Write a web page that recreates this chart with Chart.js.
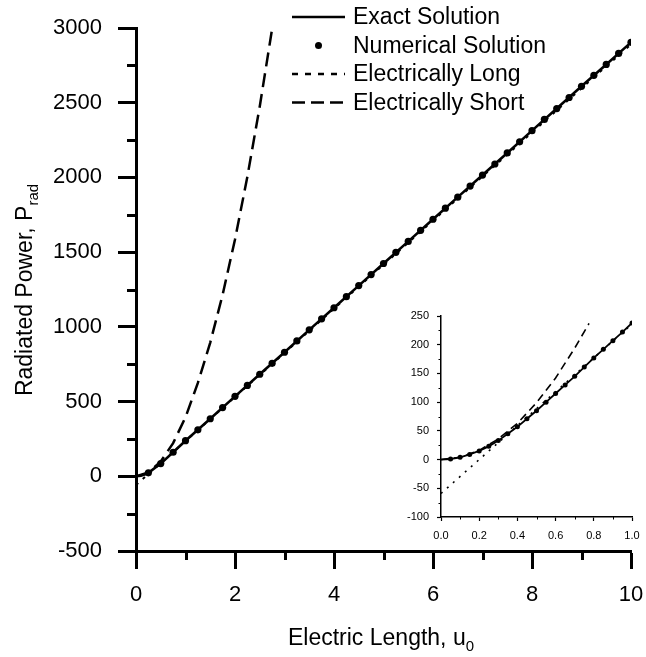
<!DOCTYPE html>
<html>
<head>
<meta charset="utf-8">
<script src="https://cdn.jsdelivr.net/npm/chart.js@4.4.1/dist/chart.umd.min.js"></script>
<style>
    html, body { margin: 0; padding: 0; background: #fff; }
    #wrap { position: relative; width: 646px; height: 657px; }
    #main { position: absolute; left: 0; top: 0; }
    #inset { position: absolute; left: 395px; top: 305px; }
</style>
</head>
<body>
<div id="wrap">
    <canvas id="main" width="646" height="657"></canvas>
    <canvas id="inset" width="251" height="245"></canvas>
</div>
<script>
/* ============================================================
   Radiated power vs electric length (main plot + zoomed inset)
============================================================ */

const FONT = "'Liberation Sans', Arial, sans-serif";

/* ---- main plot data ---- */
const U_NUM = [0.25, 0.5, 0.75, 1, 1.25, 1.5, 1.75, 2, 2.25, 2.5, 2.75, 3, 3.25, 3.5, 3.75, 4,
    4.25, 4.5, 4.75, 5, 5.25, 5.5, 5.75, 6, 6.25, 6.5, 6.75, 7, 7.25, 7.5, 7.75, 8,
    8.25, 8.5, 8.75, 9, 9.25, 9.5, 9.75, 10];
const P_NUM = [23, 85, 161, 238, 311, 385, 460, 535, 608, 683, 756, 830, 906, 980, 1054, 1128,
    1202, 1276, 1350, 1424, 1499, 1572, 1646, 1720, 1794, 1868, 1942, 2016, 2090, 2164, 2238, 2313,
    2388, 2461, 2535, 2610, 2683, 2756, 2830, 2904];

const U_EXACT = [0, 0.1, 0.2, 0.25, 0.5, 0.75, 1, 1.5, 2, 2.5, 3, 3.5, 4, 4.5, 5, 5.5, 6, 6.5, 7, 7.5, 8, 8.5, 9, 9.5, 10];
const P_EXACT = [0, 4, 15, 23, 85, 161, 238, 385, 535, 683, 830, 980, 1128, 1276, 1424, 1572, 1720, 1868, 2016, 2164, 2313, 2461, 2610, 2756, 2904];

const U_LONG = [0, 10];
const P_LONG = [-59, 2891];

const U_SHORT = [0, 0.25, 0.5, 0.75, 1, 1.25, 1.5, 1.75, 2, 2.25, 2.5, 2.75];
const P_SHORT = [0, 25, 99, 222, 395, 625, 895, 1215, 1585, 2005, 2475, 2995];

/* ---- inset data ---- */
const U_IN_NUM = [0.05, 0.1, 0.15, 0.2, 0.25, 0.3, 0.35, 0.4, 0.45, 0.5, 0.55, 0.6, 0.65, 0.7, 0.75, 0.8, 0.85, 0.9, 0.95, 1];
const P_IN_NUM = [1, 4, 9, 15, 23, 33, 45, 57, 71, 85, 100, 115, 130, 145, 161, 177, 192, 207, 222, 238];

const U_IN_EXACT = [0, 0.05, 0.1, 0.15, 0.2, 0.25, 0.3, 0.35, 0.4, 0.45, 0.5, 0.55, 0.6, 0.65, 0.7, 0.75, 0.8, 0.85, 0.9, 0.95, 1];
const P_IN_EXACT = [0, 1, 4, 9, 15, 23, 33, 45, 57, 71, 85, 100, 115, 130, 145, 161, 177, 192, 207, 222, 238];

const U_IN_LONG = [0, 1];
const P_IN_LONG = [-59, 236];

const U_IN_SHORT = [0, 0.1, 0.2, 0.3, 0.4, 0.5, 0.6, 0.7, 0.775];
const P_IN_SHORT = [0, 4, 16, 36, 63, 99, 142, 194, 237];

/* ---- axes ---- */
const X_RANGE = [0, 10], X_STEP = 2, X_MINOR = 1;
const Y_RANGE = [-500, 3000], Y_STEP = 500, Y_MINOR = 250;
const XI_RANGE = [0, 1], XI_STEP = 0.2, XI_MINOR = 0.1;
const YI_RANGE = [-100, 250], YI_STEP = 50, YI_MINOR = 25;

const LEGEND_LABELS = ["Exact Solution", "Numerical Solution", "Electrically Long", "Electrically Short"];

function pts(xs, ys) {
    return xs.map((x, i) => ({ x, y: ys[i] }));
}

/* minor ticks (Chart.js has no minor ticks on linear scales) */
const minorTicks = {
    id: "minorTicks",
    afterDraw(chart, args, o) {
        const { ctx, chartArea } = chart;
        const sx = chart.scales.x, sy = chart.scales.y;
        ctx.save();
        ctx.strokeStyle = "#000";
        ctx.lineWidth = o.width;
        ctx.beginPath();
        for (let v = sx.min + o.xMinor; v < sx.max; v += o.xMajor) {
            const px = Math.round(sx.getPixelForValue(v)) + (o.width % 2 ? 0.5 : 0);
            ctx.moveTo(px, chartArea.bottom);
            ctx.lineTo(px, chartArea.bottom + o.len);
        }
        for (let v = sy.min + o.yMinor; v < sy.max; v += o.yMajor) {
            const py = Math.round(sy.getPixelForValue(v)) + (o.width % 2 ? 0.5 : 0);
            ctx.moveTo(chartArea.left, py);
            ctx.lineTo(chartArea.left - o.len, py);
        }
        ctx.stroke();
        ctx.restore();
    }
};

/* text with a subscript */
function subText(ctx, x, y, main, sub, size, subSize, drop, align) {
    ctx.font = `${size}px ${FONT}`;
    const w1 = ctx.measureText(main).width;
    ctx.font = `${subSize}px ${FONT}`;
    const w2 = ctx.measureText(sub).width;
    const x0 = align === "center" ? x - (w1 + w2) / 2 : x;
    ctx.textAlign = "left";
    ctx.textBaseline = "alphabetic";
    ctx.font = `${size}px ${FONT}`;
    ctx.fillText(main, x0, y);
    ctx.font = `${subSize}px ${FONT}`;
    ctx.fillText(sub, x0 + w1, y + drop);
}

/* axis titles + legend for the main plot */
const mainDecor = {
    id: "mainDecor",
    afterDraw(chart) {
        const ctx = chart.ctx;
        ctx.save();
        ctx.fillStyle = "#000";

        subText(ctx, 381, 645, "Electric Length, u", "0", 23, 15, 6, "center");

        ctx.save();
        ctx.translate(32, 290);
        ctx.rotate(-Math.PI / 2);
        subText(ctx, 0, 0, "Radiated Power, P", "rad", 23, 15, 6, "center");
        ctx.restore();

        // legend
        const dash = { "Exact Solution": [], "Electrically Long": [6, 7], "Electrically Short": [13, 6] };
        LEGEND_LABELS.forEach((lab, i) => {
            const y = 17 + i * 28.5;
            ctx.strokeStyle = "#000";
            ctx.fillStyle = "#000";
            if (lab === "Numerical Solution") {
                ctx.beginPath();
                ctx.arc(318.5, y, 3.5, 0, Math.PI * 2);
                ctx.fill();
            } else {
                ctx.lineWidth = 2.5;
                ctx.setLineDash(dash[lab]);
                ctx.beginPath();
                ctx.moveTo(292, y);
                ctx.lineTo(345, y);
                ctx.stroke();
                ctx.setLineDash([]);
            }
            ctx.font = `23px ${FONT}`;
            ctx.textAlign = "left";
            ctx.textBaseline = "middle";
            ctx.fillText(lab, 353, y + 1);
        });
        ctx.restore();
    }
};

function lineSet(label, data, width, dash) {
    return {
        label, data,
        borderColor: "#000",
        backgroundColor: "#000",
        borderWidth: width,
        borderDash: dash,
        pointRadius: 0,
        pointHoverRadius: 0,
        fill: false,
        tension: 0,
        showLine: true
    };
}

function dotSet(label, data, r) {
    return {
        label, data,
        showLine: false,
        pointRadius: r,
        pointHoverRadius: r,
        pointBackgroundColor: "#000",
        pointBorderColor: "#000",
        pointBorderWidth: 0
    };
}

function axes(xr, xs, yr, ys, o) {
    const tickFont = { family: FONT, size: o.font };
    return {
        x: {
            type: "linear", min: xr[0], max: xr[1],
            afterFit: s => { s.height = o.xh; s.paddingLeft = 0; s.paddingRight = 0; },
            ticks: { stepSize: xs, color: "#000", font: tickFont, padding: o.xpad, maxRotation: 0, autoSkip: false,
                callback: v => o.fmtX(v) },
            grid: { drawOnChartArea: false, tickLength: o.tl, tickWidth: o.tw, tickColor: "#000" },
            border: { display: true, color: "#000", width: o.bw }
        },
        y: {
            type: "linear", min: yr[0], max: yr[1],
            afterFit: s => { s.width = o.yw; s.paddingTop = 0; s.paddingBottom = 0; },
            ticks: { stepSize: ys, color: "#000", font: tickFont, padding: o.ypad, autoSkip: false,
                callback: v => String(v) },
            grid: { drawOnChartArea: false, tickLength: o.tl, tickWidth: o.tw, tickColor: "#000" },
            border: { display: true, color: "#000", width: o.bw }
        }
    };
}

/* ---- main chart ---- */
new Chart(document.getElementById("main"), {
    type: "line",
    data: {
        datasets: [
            dotSet("Numerical Solution", pts(U_NUM, P_NUM), 3.6),
            lineSet("Exact Solution", pts(U_EXACT, P_EXACT), 2.6, []),
            lineSet("Electrically Long", pts(U_LONG, P_LONG), 2, [3, 6]),
            lineSet("Electrically Short", pts(U_SHORT, P_SHORT), 2.5, [14, 7])
        ]
    },
    options: {
        responsive: false,
        animation: false,
        devicePixelRatio: 1,
        layout: { padding: { top: 28, right: 15, left: 0, bottom: 0 } },
        plugins: {
            legend: { display: false },
            tooltip: { enabled: false },
            minorTicks: { xMinor: X_MINOR, xMajor: X_STEP, yMinor: Y_MINOR, yMajor: Y_STEP, len: 9, width: 3 }
        },
        scales: axes(X_RANGE, X_STEP, Y_RANGE, Y_STEP, {
            font: 22, xh: 106, yw: 136, xpad: 13, ypad: 16, tl: 18, tw: 3, bw: 3, fmtX: v => String(v)
        })
    },
    plugins: [minorTicks, mainDecor]
});

/* ---- inset chart ---- */
new Chart(document.getElementById("inset"), {
    type: "line",
    data: {
        datasets: [
            dotSet("Numerical Solution", pts(U_IN_NUM, P_IN_NUM), 2.5),
            lineSet("Exact Solution", pts(U_IN_EXACT, P_IN_EXACT), 1.8, []),
            lineSet("Electrically Long", pts(U_IN_LONG, P_IN_LONG), 1.6, [2, 6]),
            lineSet("Electrically Short", pts(U_IN_SHORT, P_IN_SHORT), 1.6, [8, 5])
        ]
    },
    options: {
        responsive: false,
        animation: false,
        devicePixelRatio: 1,
        layout: { padding: { top: 11, right: 14, left: 0, bottom: 0 } },
        plugins: {
            legend: { display: false },
            tooltip: { enabled: false },
            minorTicks: { xMinor: XI_MINOR, xMajor: XI_STEP, yMinor: YI_MINOR, yMajor: YI_STEP, len: 2.5, width: 1 }
        },
        scales: axes(XI_RANGE, XI_STEP, YI_RANGE, YI_STEP, {
            font: 11, xh: 33, yw: 46, xpad: 8, ypad: 8, tl: 4, tw: 1.2, bw: 1.5, fmtX: v => v.toFixed(1)
        })
    },
    plugins: [minorTicks]
});
</script>
</body>
</html>
